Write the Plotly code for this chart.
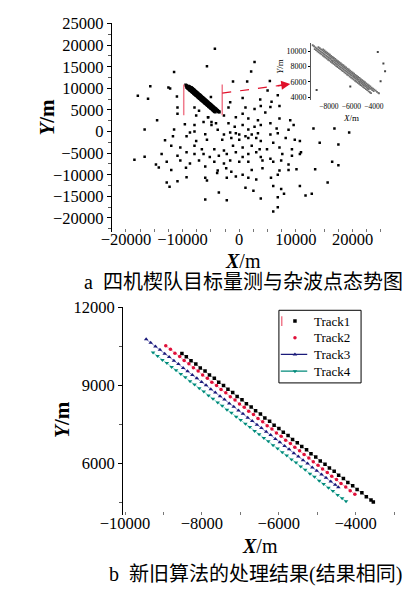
import plotly.graph_objects as go

W, H = 413, 592

# ---------------- data ----------------
track1_x = [-8520,-8405,-8283,-8158,-8042,-7918,-7803,-7676,-7562,-7437,-7322,-7198,-7083,-6957,-6842,-6718,-6603,-6477,-6362,-6238,-6121,-5997,-5882,-5758,-5641,-5518,-5402,-5277,-5162,-5038,-4921,-4797,-4682,-4558,-4442,-4318,-4203,-4077,-3962,-3838,-3722,-3600,-3540]
track1_y = [10230,10098,9948,9822,9671,9548,9398,9272,9122,8998,8847,8722,8571,8447,8296,8172,8021,7897,7746,7622,7471,7346,7196,7071,6921,6795,6645,6520,6370,6245,6094,5969,5819,5694,5543,5419,5268,5143,4993,4868,4718,4593,4520]
track2_x = [-8940,-8818,-8702,-8578,-8462,-8338,-8221,-8098,-7981,-7858,-7741,-7618,-7502,-7378,-7261,-7138,-7021,-6898,-6782,-6658,-6541,-6418,-6302,-6178,-6061,-5938,-5821,-5698,-5582,-5458,-5341,-5218,-5102,-4978,-4861,-4738,-4622,-4498,-4381,-4258,-4142,-4020]
track2_y = [10520,10388,10236,10109,9957,9830,9679,9552,9400,9273,9122,8995,8843,8716,8565,8438,8286,8159,8008,7881,7729,7603,7451,7324,7172,7046,6894,6768,6616,6489,6338,6211,6059,5932,5781,5654,5502,5376,5224,5097,4946,4813]
track3_x = [-9450,-9332,-9208,-9091,-8968,-8852,-8728,-8611,-8488,-8372,-8248,-8131,-8008,-7892,-7768,-7651,-7528,-7412,-7288,-7171,-7048,-6932,-6808,-6691,-6568,-6452,-6328,-6211,-6088,-5972,-5848,-5731,-5608,-5492,-5368,-5251,-5128,-5012,-4888,-4771,-4648,-4532,-4450]
track3_y = [10770,10640,10490,10366,10218,10093,9944,9820,9671,9547,9398,9273,9125,9000,8852,8727,8578,8454,8305,8181,8032,7907,7759,7634,7486,7361,7212,7088,6939,6815,6666,6541,6393,6268,6120,5995,5846,5722,5573,5449,5300,5175,5080]
track4_x = [-9270,-9152,-9028,-8911,-8788,-8672,-8548,-8431,-8308,-8192,-8068,-7951,-7828,-7712,-7588,-7471,-7348,-7232,-7108,-6991,-6868,-6752,-6628,-6511,-6388,-6272,-6148,-6031,-5908,-5792,-5668,-5551,-5428,-5312,-5188,-5071,-4948,-4832,-4708,-4591,-4468,-4352,-4250]
track4_y = [10260,10130,9980,9857,9706,9584,9433,9310,9160,9037,8886,8764,8613,8490,8340,8217,8066,7944,7793,7670,7520,7397,7246,7123,6973,6850,6700,6577,6426,6304,6153,6030,5880,5757,5606,5483,5333,5210,5059,4937,4786,4663,4540]

clutter_x = [-4300,2700,-11500,2100,-1100,1400,5400,-15700,-12500,-12200,-17900,-16100,-11000,-5000,5000,6800,-5800,-1600,600,3700,5700,-7900,-1900,1100,2700,3800,5500,7100,-14500,-10900,-7600,-5500,-2700,-600,600,1600,3300,4600,7100,9000,9600,-9600,-7900,-6300,-4900,-4100,-1900,-800,600,1600,2700,3800,5500,6600,8700,-16700,-11500,-8700,-7900,-6000,-3800,-2700,-1600,-600,0,1100,2200,3300,5500,6800,13100,16800,19400,-13100,-11700,-9300,-7600,-5700,-3000,-1400,0,1600,3000,3800,6000,8200,9800,10700,14200,-12000,-10400,-7900,-6600,-4400,-2700,-1100,600,2200,3600,4900,7100,9300,10900,17500,-13700,-10900,-9300,-7900,-6300,-5200,-3600,-2200,-600,600,1600,3000,3800,5500,7600,9300,10700,-18500,-16700,-14700,-12800,-10400,-8700,-7100,-4400,-2700,-1600,0,1600,4100,6000,7400,8700,16400,17500,-14200,-12000,-9400,-6000,-3800,-2300,-1400,600,2200,4100,7100,8700,10100,13400,-12800,-10900,-9300,-6000,-3900,-2200,-600,1600,3000,5600,6800,-12300,-5700,1100,2500,6000,7400,10700,15600,-3600,3800,6800,7900,11700,12800,-6000,-2200,6800,6000,-5700,-10900,-7100,-5200,-5500,-4900]
clutter_y = [19200,16100,13800,13900,11600,11600,11700,10500,10200,10000,8300,7600,8100,8000,9500,8400,6900,6800,7800,7400,6900,5600,5600,5600,5200,5900,5700,5900,2600,4100,3700,3300,3700,3300,4100,3000,2600,4400,3000,2600,1500,1700,1500,2200,1500,1900,1900,1100,1500,500,1100,1500,1900,700,400,500,500,-200,0,-600,400,-700,-200,-400,-700,-1100,-700,-400,-700,-400,700,700,-200,-2000,-1100,-1100,-2200,-1900,-1900,-1500,-1900,-1500,-1500,-2200,-2600,-1500,-1900,-2200,-2600,-3300,-3700,-3300,-4100,-4100,-4400,-3300,-3700,-3300,-4100,-4100,-3700,-4100,-4800,-3000,-5200,-5600,-4800,-5200,-5200,-5900,-5600,-5200,-4800,-5900,-5200,-4800,-5900,-6300,-5200,-5600,-5200,-6500,-5800,-7600,-7000,-6700,-7400,-6700,-7000,-7400,-6700,-7000,-7000,-6700,-7000,-6700,-7600,-7000,-7800,-8300,-8900,-8400,-8100,-9000,-8500,-9300,-10000,-8900,-8500,-9000,-8900,-8700,-8700,-11800,-11500,-10600,-10700,-9600,-10700,-10400,-10700,-11100,-10700,-10000,-12800,-11300,-13000,-13700,-12600,-13300,-12600,-11800,-14100,-15500,-15200,-14400,-14800,-14400,-15700,-15900,-17500,-18500,15100,5600,4800,5900,3300,2200]

inset_clutter_x = [-3650,-3150,-3000,-3400,-9100,-6100]
inset_clutter_y = [9900,8400,7400,6100,4950,5400]

zoom_box_x = [-9800, -3000]
zoom_box_y = [3800, 10900]
arrow_start = [-3000, 8900]
arrow_end = [9000, 11000]
inset_x_range = [-9600, -2700]
inset_y_range = [3620, 11020]

top_xticks = [-20000, -10000, 0, 10000, 20000]
top_yticks = [25000, 20000, 15000, 10000, 5000, 0, -5000, -10000, -15000, -20000]
bot_xticks = [-10000, -8000, -6000, -4000]
bot_yticks = [12000, 9000, 6000]
inset_xticks = [-8000, -6000, -4000]
inset_yticks = [10000, 8000, 6000, 4000]

track_names = ["Track1", "Track2", "Track3", "Track4"]

SERIF = "Liberation Serif, Times New Roman, serif"
CJK = "Liberation Serif, Noto Sans CJK SC, serif"


def px(x):
    return x / W


def py(y):
    return 1 - y / H


def labels(vals):
    return [str(v).replace("-", "\u2212") for v in vals]


fig = go.Figure()
tracks = [(track1_x, track1_y), (track2_x, track2_y), (track3_x, track3_y), (track4_x, track4_y)]

# ---------------- top plot ----------------
fig.add_trace(go.Scatter(x=clutter_x, y=clutter_y, mode="markers",
                         marker=dict(symbol="square", size=2.5, color="black"),
                         xaxis="x", yaxis="y"))
for tx, ty in tracks:
    fig.add_trace(go.Scatter(x=tx, y=ty, mode="lines+markers",
                             line=dict(color="black", width=3),
                             marker=dict(symbol="square", size=3, color="black"),
                             xaxis="x", yaxis="y"))
for bx in zoom_box_x:
    fig.add_trace(go.Scatter(x=[bx, bx], y=zoom_box_y, mode="lines",
                             line=dict(color="#f07a8c", width=1.5),
                             xaxis="x", yaxis="y"))
fig.add_trace(go.Scatter(x=[arrow_start[0], arrow_end[0]], y=[arrow_start[1], arrow_end[1]],
                         mode="lines", line=dict(color="#e0102a", width=1.2, dash="dash"),
                         xaxis="x", yaxis="y"))
fig.add_annotation(x=arrow_end[0], y=arrow_end[1], ax=arrow_end[0] - 2500, ay=arrow_end[1] - 450,
                   xref="x", yref="y", axref="x", ayref="y", text="", showarrow=True,
                   arrowhead=2, arrowsize=1.2, arrowwidth=1.5, arrowcolor="#e0102a")

# ---------------- inset ----------------
for tx, ty in tracks:
    fig.add_trace(go.Scatter(x=tx, y=ty, mode="lines+markers",
                             line=dict(color="#c8c8c8", width=0.6),
                             marker=dict(symbol="square", size=1.8, color="#707070"),
                             xaxis="x3", yaxis="y3"))
fig.add_trace(go.Scatter(x=inset_clutter_x, y=inset_clutter_y, mode="markers",
                         marker=dict(symbol="square", size=2, color="#444"),
                         xaxis="x3", yaxis="y3"))

# ---------------- bottom plot ----------------
line_cols = ["#a8a8a8", "#f4a8b8", "#9090cc", "#90dcd4"]
mk_cols = ["black", "#e0103a", "#1a1a7a", "#008a7a"]
mk_sym = ["square", "circle", "triangle-up", "triangle-down"]
mk_size = [3.5, 3.5, 4, 4]
for i, (tx, ty) in enumerate(tracks):
    fig.add_trace(go.Scatter(x=tx, y=ty, mode="lines",
                             line=dict(color=line_cols[i], width=1),
                             xaxis="x2", yaxis="y2"))
    fig.add_trace(go.Scatter(x=tx, y=ty, mode="markers", name=track_names[i],
                             marker=dict(symbol=mk_sym[i], size=mk_size[i], color=mk_cols[i]),
                             xaxis="x2", yaxis="y2"))

# ---------------- manual legend (own axes, pixel units) ----------------
leg_box = [271, 358, 307, 381]  # left, right, top, bottom in px
leg_rows = [318, 335, 352, 369]
fig.add_shape(type="rect", xref="paper", yref="paper",
              x0=px(leg_box[0]), x1=px(leg_box[1]), y0=py(leg_box[3]), y1=py(leg_box[2]),
              line=dict(color="black", width=1), fillcolor="white", layer="below")
fig.add_trace(go.Scatter(x=[274, 274], y=[leg_rows[0] - 5, leg_rows[0] + 5], mode="lines",
                         line=dict(color="#f07a8c", width=1.5), xaxis="x4", yaxis="y4"))
for i, ry in enumerate(leg_rows):
    if i >= 2:
        fig.add_trace(go.Scatter(x=[273, 301], y=[ry, ry], mode="lines",
                                 line=dict(color=mk_cols[i], width=1.3), xaxis="x4", yaxis="y4"))
    fig.add_trace(go.Scatter(x=[288], y=[ry], mode="markers",
                             marker=dict(symbol=mk_sym[i], size=mk_size[i], color=mk_cols[i]),
                             xaxis="x4", yaxis="y4"))
    fig.add_annotation(text=track_names[i], x=306, y=ry, xref="x4", yref="y4",
                       xanchor="left", yanchor="middle", showarrow=False,
                       font=dict(family=SERIF, size=13, color="black"))

axis_common = dict(showgrid=False, zeroline=False, tickfont=dict(family=SERIF, size=16.5, color="black"),
                   ticks="outside", ticklen=4, tickcolor="black", linecolor="black")

fig.update_layout(
    width=W, height=H, margin=dict(l=0, r=0, t=0, b=0),
    paper_bgcolor="white", plot_bgcolor="rgba(0,0,0,0)", showlegend=False,
    xaxis=dict(axis_common, domain=[px(94), px(394)], range=[-22500, 27500], anchor="y",
               tickvals=top_xticks, ticktext=labels(top_xticks), showline=False,
               ticks="inside", ticklen=3, tickcolor="#777", ticklabelstandoff=-4,
               minor=dict(dtick=2500, ticks="inside", ticklen=3, tickcolor="#777")),
    yaxis=dict(axis_common, domain=[py(227), py(14)], range=[-23200, 25200], anchor="x",
               tickvals=top_yticks, ticktext=labels(top_yticks), showline=True, linewidth=1,
               minor=dict(dtick=2500, ticks="outside", ticklen=3, tickcolor="#555")),
    xaxis2=dict(axis_common, domain=[px(106), px(395)], range=[-10050, -2950], anchor="y2",
                tickvals=bot_xticks, ticktext=labels(bot_xticks), showline=False,
                ticks="inside", ticklen=3, tickcolor="#777", ticklabelstandoff=-4,
                minor=dict(dtick=1000, ticks="inside", ticklen=3, tickcolor="#777")),
    yaxis2=dict(axis_common, domain=[py(516), py(304)], range=[4000, 12000], anchor="x2",
                tickvals=bot_yticks, ticktext=labels(bot_yticks), showline=True, linewidth=1,
                minor=dict(dtick=1500, ticks="outside", ticklen=3, tickcolor="#555")),
    xaxis3=dict(axis_common, domain=[px(305), px(387)], range=inset_x_range, anchor="y3",
                tickvals=inset_xticks, ticktext=labels(inset_xticks), showline=False,
                ticks="", tickangle=0, tickfont=dict(family=SERIF, size=7.5, color="black")),
    yaxis3=dict(axis_common, domain=[py(93), py(35)], range=inset_y_range, anchor="x3",
                tickvals=inset_yticks, ticktext=labels(inset_yticks), showline=True,
                linewidth=1, linecolor="#555", ticklen=2,
                tickfont=dict(family=SERIF, size=8, color="black")),
    xaxis4=dict(domain=[px(leg_box[0]), px(leg_box[1])], range=[leg_box[0], leg_box[1]],
                anchor="y4", visible=False, fixedrange=True),
    yaxis4=dict(domain=[py(leg_box[3]), py(leg_box[2])], range=[leg_box[3], leg_box[2]],
                anchor="x4", visible=False, fixedrange=True),
)


def ann(text, x, y, size, angle=0, family=SERIF):
    fig.add_annotation(text=text, x=px(x), y=py(y), xref="paper", yref="paper",
                       xanchor="center", yanchor="middle",
                       showarrow=False, textangle=angle,
                       font=dict(family=family, size=size, color="black"))


ann("<b><i>Y</i>/m</b>", 25, 110, 21, -90)
ann("<b><i>X</i></b>/m", 233, 257, 20)
ann("a  四机楔队目标量测与杂波点态势图", 234, 278, 20, family=CJK)
ann("<i>Y</i>/m", 272, 58, 9, -90)
ann("<i>X</i>/m", 347, 111, 9)
ann("<b><i>Y</i>/m</b>", 42, 418, 21, -90)
ann("<b><i>X</i></b>/m", 251, 547, 20)
ann("b  新旧算法的处理结果(结果相同)", 246, 576, 20, family=CJK)

fig.write_html("out.html")
